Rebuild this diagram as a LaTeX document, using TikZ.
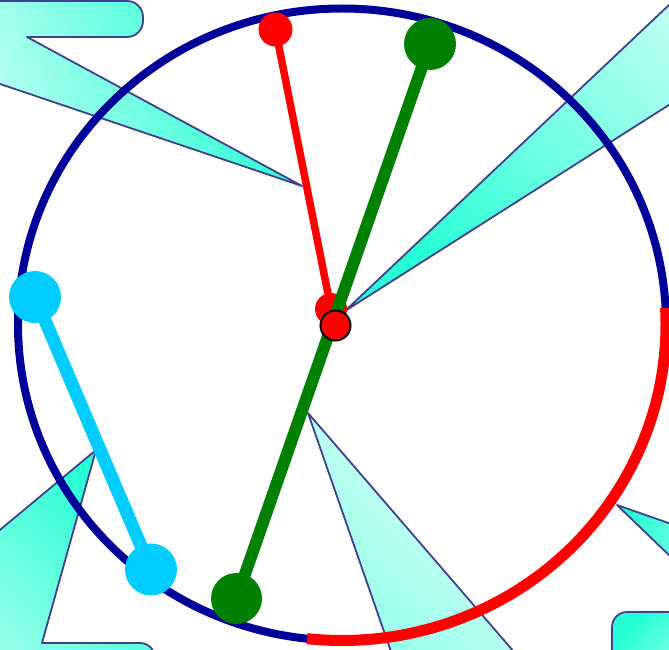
\documentclass[tikz,border=0pt]{standalone}
\begin{document}
\definecolor{navyc}{RGB}{0,0,153}
\definecolor{redc}{RGB}{255,0,0}
\definecolor{greenc}{RGB}{0,128,0}
\definecolor{cyanc}{RGB}{0,204,255}
\definecolor{edgec}{RGB}{64,64,140}
\definecolor{satc}{RGB}{40,255,212}
\definecolor{lightc}{RGB}{235,255,250}
\begin{tikzpicture}[x=1pt,y=1pt,
  callout/.style={draw=edgec, line width=1.8pt, line join=round},
  upshade/.style={top color=satc, bottom color=lightc, shading angle=-45},
  downshade/.style={top color=lightc, bottom color=satc, shading angle=-45},
  dot/.style={circle, inner sep=0pt, minimum size=#1, draw=none},
  hand/.style={line width=#1, line cap=butt}
]
\useasboundingbox (0,0) rectangle (669,649);
\fill[white] (0,0) rectangle (669,649);
\clip (0,0) rectangle (669,649);

% callouts
\path[callout, top color=satc, bottom color=lightc, shading angle=-70] (302,463) -- (27,612) -- (127,612)
  arc[start angle=-90, end angle=0, radius=16] -- (143,632)
  arc[start angle=0, end angle=90, radius=16] -- (-60,648) -- (-60,612) -- (-139,612) -- cycle;
\path[callout, downshade] (345,338) -- (760,730) -- (860,730) -- (860,560) -- (760,602) -- cycle;
\path[callout, upshade] (96,199) -- (42,6) -- (140,6)
  arc[start angle=90, end angle=0, radius=15] -- (155,-80) -- (-200,-80) -- (-200,6) -- (-136,6) -- cycle;
\path[callout, downshade] (308,236) -- (404,-40) -- (200,-40) -- (200,-400) -- (650,-400) -- (650,-40) -- (546,-40) -- cycle;
\path[callout, top color=satc, bottom color=lightc, shading angle=80] (617,144) -- (700,115) -- (700,140) -- (800,140) -- (800,0) -- (700,0) -- (700,64) -- cycle;
\path[callout, top color=satc, bottom color=lightc, shading angle=45] (612,-60) -- (612,22) arc[start angle=180, end angle=90, radius=15] -- (760,37) -- (760,-60) -- cycle;

% dial
\draw[navyc, line width=8pt] (342,324.5) ellipse[x radius=324, y radius=316];
\draw[redc, line width=11pt] (342,324.5) ++(-96.2:324 and 316) arc[start angle=-96.2, end angle=3, x radius=324, y radius=316];

% cyan hand
\node[dot=52pt, fill=cyanc] (ct) at (35,352) {};
\node[dot=52pt, fill=cyanc] (cb) at (151,79.5) {};
\draw[hand=13pt, cyanc] (ct.center) -- (cb.center);

% red hand
\node[dot=34pt, fill=redc] (rt) at (275.5,619.5) {};
\node[dot=32pt, fill=redc] (rb) at (331,340) {};
\draw[hand=7.5pt, redc] (rb.center) -- (rt.center);

% green hand
\node[dot=52pt, fill=greenc] (gt) at (430,605) {};
\node[dot=51pt, fill=greenc] (gb) at (236.5,50.5) {};
\draw[hand=12pt, greenc] (gb.center) -- (gt.center);

% center
\node[circle, inner sep=0pt, minimum size=30pt, fill=redc, draw=black, line width=2pt] (ctr) at (335.5,323.5) {};
\end{tikzpicture}
\end{document}
